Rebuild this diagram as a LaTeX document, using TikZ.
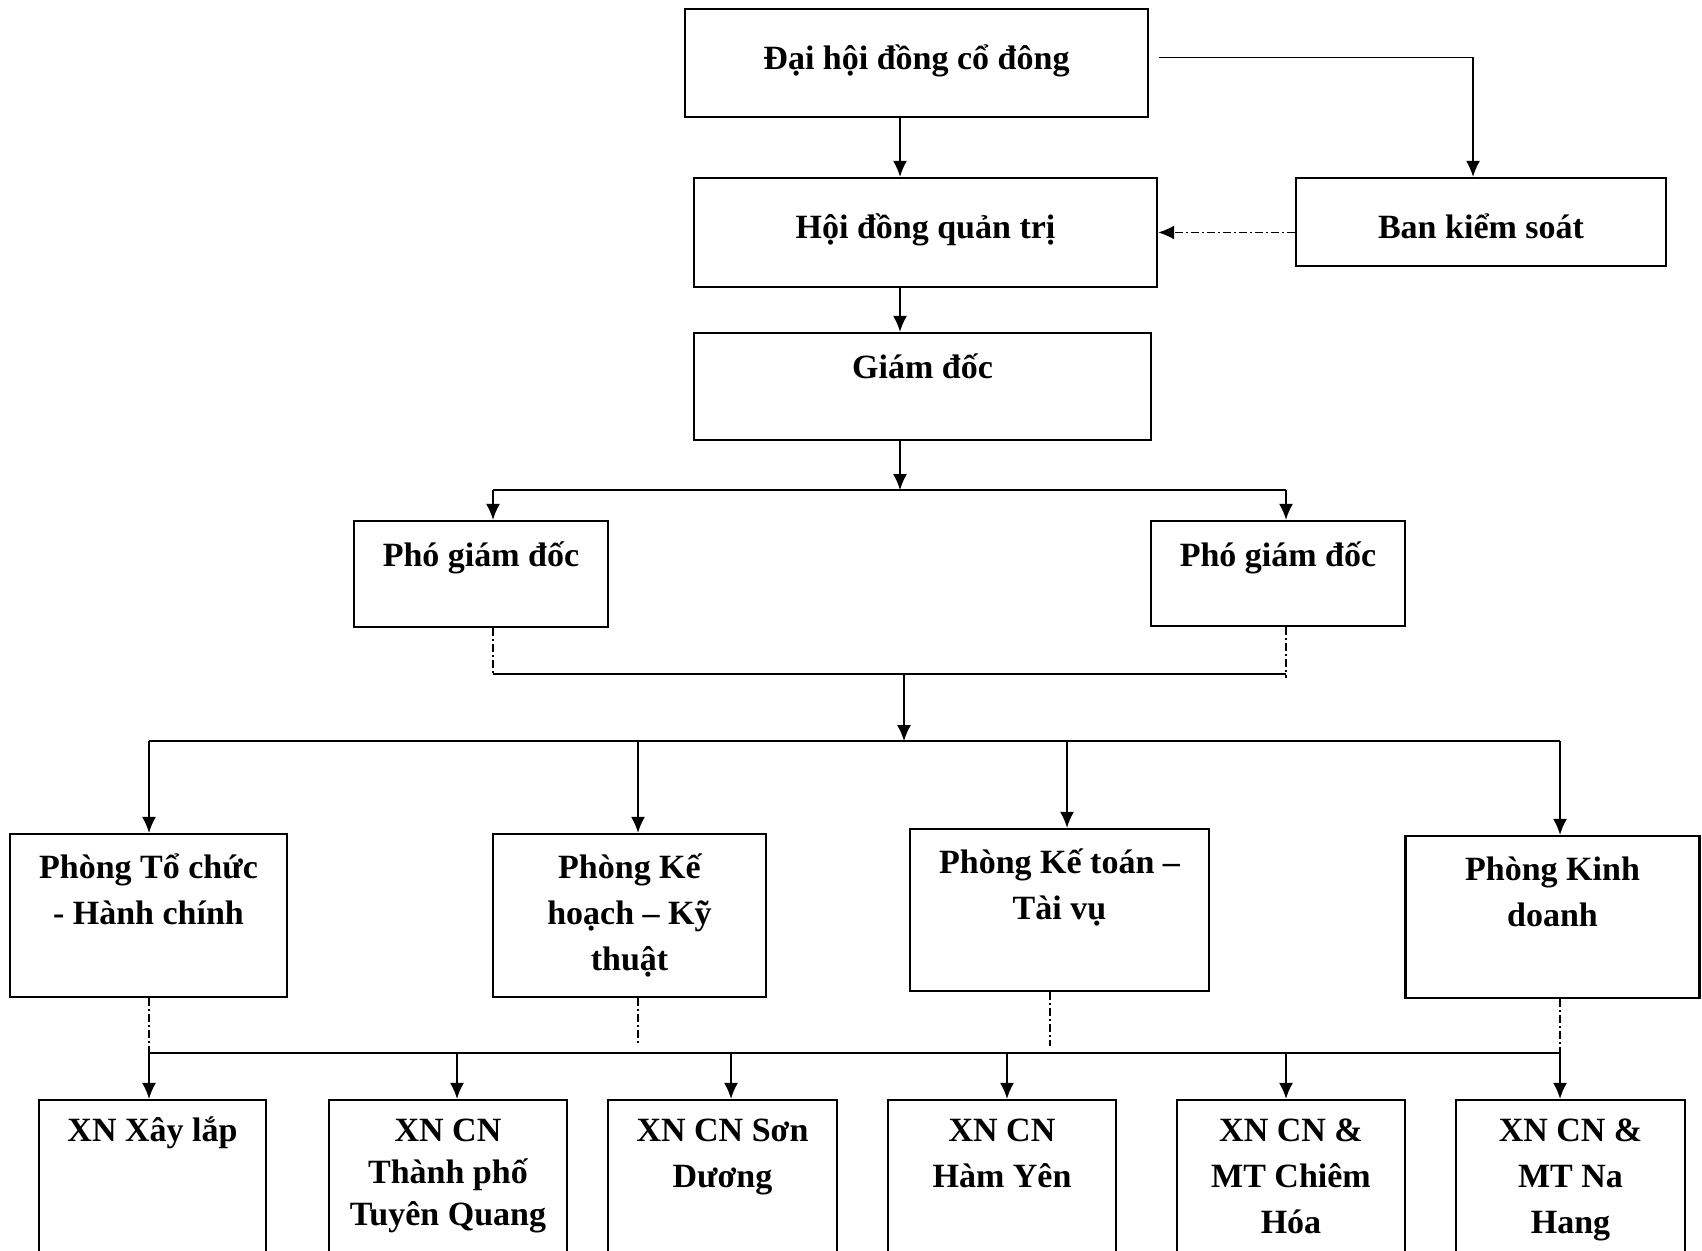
\documentclass[tikz,border=0pt]{standalone}
\usepackage{fontspec}
\setmainfont{Liberation Serif}
\usetikzlibrary{arrows.meta}
\usetikzlibrary{positioning}
\tikzset{>={Latex[length=8pt,width=7pt]}}
\newcommand{\topline}{\rule{0pt}{18pt}}
\tikzset{
  orgbox/.style={draw, line width=1.2pt, inner sep=0pt},
  boxtext/.style={inner sep=0pt, align=center,
    font=\bfseries\fontsize{17}{23}\selectfont},
  conn/.style={line width=0.7pt},
  dashdot/.style={line width=0.7pt, dash pattern=on 4pt off 1.5pt on 1pt off 1.5pt}
}

\begin{document}
\begin{tikzpicture}[x=0.5pt, y=-0.5pt]
    \useasboundingbox (0,0) rectangle (1702,1251);
    \clip (0,0) rectangle (1702,1251);

    % upper levels
    \node [orgbox, minimum width=231.5pt, minimum height=54pt] (dhcd) at (916.5,63) {};
    \node [boxtext, below=12.5pt of dhcd.north] (dhcd-t) {\topline Đại hội đồng cổ đông};

    \node [orgbox, minimum width=231.5pt, minimum height=54.5pt] (hdqt) at (925.5,232.5) {};
    \node [boxtext, below=12.5pt of hdqt.north] (hdqt-t) {\topline Hội đồng quản trị};

    \node [orgbox, minimum width=185pt, minimum height=44pt] (bks) at (1481,222) {};
    \node [boxtext, below=12.5pt of bks.north] (bks-t) {\topline Ban kiểm soát};

    \node [orgbox, minimum width=228.5pt, minimum height=53.5pt] (gd) at (922.5,386.5) {};
    \node [boxtext, below=5pt of gd.north] (gd-t) {\topline Giám đốc};

    \node [orgbox, minimum width=127pt, minimum height=53pt] (pgd1) at (481,574) {};
    \node [boxtext, below=5pt of pgd1.north] (pgd1-t) {\topline Phó giám đốc};

    \node [orgbox, minimum width=127pt, minimum height=52.5pt] (pgd2) at (1278,573.5) {};
    \node [boxtext, below=5pt of pgd2.north] (pgd2-t) {\topline Phó giám đốc};

    % phong ban
    \node [orgbox, minimum width=138.5pt, minimum height=81.5pt] (ptc) at (148.5,915.5) {};
    \node [boxtext, below=4.5pt of ptc.north] (ptc-t) {\topline Phòng Tổ chức\\- Hành chính};

    \node [orgbox, minimum width=136.5pt, minimum height=81.5pt] (pkh) at (629.5,915.5) {};
    \node [boxtext, below=4.5pt of pkh.north] (pkh-t) {\topline Phòng Kế\\hoạch – Kỹ\\thuật};

    \node [orgbox, minimum width=149.5pt, minimum height=81pt] (pkt) at (1059.5,910) {};
    \node [boxtext, below=4.5pt of pkt.north] (pkt-t) {\topline Phòng Kế toán –\\Tài vụ};

    \node [orgbox, minimum width=147pt, minimum height=81pt] (pkd) at (1552.5,917) {};
    \node [boxtext, below=4.5pt of pkd.north] (pkd-t) {\topline Phòng Kinh\\doanh};

    % xi nghiep
    \node [orgbox, minimum width=113.5pt, minimum height=125pt] (xn1) at (152.5,1225) {};
    \node [boxtext, below=3pt of xn1.north] (xn1-t) {\topline XN Xây lắp};

    \node [orgbox, minimum width=119pt, minimum height=125pt] (xn2) at (448,1225) {};
    \node [boxtext, below=3pt of xn2.north] (xn2-t) {\topline XN CN\\[-2pt]Thành phố\\[-2pt]Tuyên Quang};

    \node [orgbox, minimum width=114.5pt, minimum height=125pt] (xn3) at (722.5,1225) {};
    \node [boxtext, below=3pt of xn3.north] (xn3-t) {\topline XN CN Sơn\\Dương};

    \node [orgbox, minimum width=114pt, minimum height=125pt] (xn4) at (1002,1225) {};
    \node [boxtext, below=3pt of xn4.north] (xn4-t) {\topline XN CN\\Hàm Yên};

    \node [orgbox, minimum width=114pt, minimum height=125pt] (xn5) at (1291,1225) {};
    \node [boxtext, below=3pt of xn5.north] (xn5-t) {\topline XN CN \&\\MT Chiêm\\Hóa};

    \node [orgbox, minimum width=114.5pt, minimum height=125pt] (xn6) at (1570.5,1225) {};
    \node [boxtext, below=3pt of xn6.north] (xn6-t) {\topline XN CN \&\\MT Na\\Hang};

    % top connectors
    \draw [conn,->] ([xshift=5pt,yshift=2.75pt]dhcd.east) -| ([xshift=-4pt]bks.north);
    \draw [conn,->] ([xshift=-8.25pt]dhcd.south) -- ([xshift=-8.25pt]dhcd.south |- hdqt.north);
    \draw [dashdot,->] (bks.west |- hdqt.east) -- (hdqt.east);
    \draw [conn,->] ([xshift=-12.75pt]hdqt.south) -- ([xshift=-12.75pt]hdqt.south |- gd.north);

    % giam doc to pho giam doc
    \coordinate (b1l) at (493,490);
    \coordinate (b1m) at (900,490);
    \coordinate (b1r) at (1286,490);
    \draw [conn,->] ([xshift=-11.25pt]gd.south) -- (b1m);
    \draw [conn] (b1l) -- (b1r);
    \draw [conn,->] (b1l) -- (b1l |- pgd1.north);
    \draw [conn,->] (b1r) -- (b1r |- pgd2.north);

    % pho giam doc to phong ban
    \coordinate (b2l) at (493,674);
    \coordinate (b2m) at (904,674);
    \coordinate (b2r) at (1286,674);
    \draw [dashdot] (b2l |- pgd1.south) -- (b2l);
    \draw [dashdot] (b2r |- pgd2.south) -- ([yshift=-2pt]b2r);
    \draw [conn] (b2l) -- (b2r);

    \coordinate (b3a) at (149,741);
    \coordinate (b3b) at (638,741);
    \coordinate (b3m) at (904,741);
    \coordinate (b3c) at (1067,741);
    \coordinate (b3d) at (1560,741);
    \draw [conn,->] (b2m) -- (b3m);
    \draw [conn] (b3a) -- (b3d);
    \draw [conn,->] (b3a) -- (b3a |- ptc.north);
    \draw [conn,->] (b3b) -- (b3b |- pkh.north);
    \draw [conn,->] (b3c) -- (b3c |- pkt.north);
    \draw [conn,->] (b3d) -- (b3d |- pkd.north);

    % phong ban to xi nghiep
    \coordinate (b4a) at (149,1053);
    \coordinate (b4b) at (457,1053);
    \coordinate (b4c) at (731,1053);
    \coordinate (b4d) at (1007,1053);
    \coordinate (b4e) at (1286,1053);
    \coordinate (b4f) at (1560,1053);
    \draw [dashdot] (b4a |- ptc.south) -- (b4a);
    \draw [dashdot] (638,0 |- pkh.south) -- (638,1046);
    \draw [dashdot] (1050,0 |- pkt.south) -- (1050,1046);
    \draw [dashdot] (b4f |- pkd.south) -- (b4f);
    \draw [conn] (b4a) -- (b4f);
    \draw [conn,->] (b4a) -- (b4a |- xn1.north);
    \draw [conn,->] (b4b) -- (b4b |- xn2.north);
    \draw [conn,->] (b4c) -- (b4c |- xn3.north);
    \draw [conn,->] (b4d) -- (b4d |- xn4.north);
    \draw [conn,->] (b4e) -- (b4e |- xn5.north);
    \draw [conn,->] (b4f) -- (b4f |- xn6.north);

  \end{tikzpicture}
\end{document}
